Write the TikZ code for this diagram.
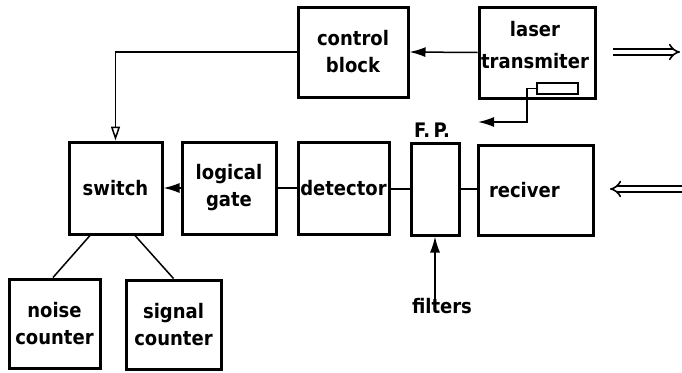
\documentclass[tikz,border=0pt]{standalone}
\usepackage{fontspec}
\setmainfont{DejaVu Sans Condensed}
\usetikzlibrary{arrows.meta,calc}
\begin{document}
\begin{tikzpicture}[x=1pt,y=-1pt,
  every node/.style={font=\bfseries\fontsize{20}{27}\selectfont},
  blk/.style={draw,line width=3pt,inner sep=0pt,align=center},
  conn/.style={line width=1.5pt},
  tip/.style={-{Latex[length=16pt,width=10pt]}},
  otip/.style={-{Triangle[open,length=14pt,width=9pt,line width=1.5pt]}},
  beam/.style={line width=1.6pt,double distance=4pt,-{Implies}}]
\useasboundingbox (0,0) rectangle (682,372);
\node[blk,minimum width=110pt,minimum height=90pt] (control) at (353,52) {control\\block};
\node[blk,minimum width=116pt,minimum height=91pt] (laser) at (537,52.5) {};
\node (lasertext) at (535,45) [align=center,font=\bfseries\fontsize{20}{32}\selectfont] {laser\\transmiter};
\node[draw,line width=2.2pt,minimum width=41pt,minimum height=11pt,inner sep=0pt] (small) at (557.5,88.5) {};
\node[blk,minimum width=93pt,minimum height=92pt] (switch) at (115.5,188) {switch};
\node[blk,minimum width=94pt,minimum height=92pt] (logic) at (229,188) {logical\\gate};
\node[blk,minimum width=91pt,minimum height=92pt] (detector) at (343.5,188) {detector};
\node[blk,minimum width=48pt,minimum height=92pt] (fp) at (435,189) {};
\node[blk,minimum width=115pt,minimum height=90pt,text width=105pt,align=left] (reciver) at (535.5,190) {\hspace*{6pt}reciver};
\node[blk,minimum width=91pt,minimum height=89pt] (noise) at (54.5,323.5) {noise\\counter};
\node[blk,minimum width=95pt,minimum height=89pt] (signal) at (173.5,324.5) {signal\\counter};
\node (fplabel) at (432,130) {F.\,P.};
\node (filters) at (442,306) {filters};
% connectors
\draw[conn,tip] (laser.west) -- (control.east);
\draw[conn,otip] (control.west) -| (switch.north);
\draw[conn,tip] (logic.west) -- (switch.east);
\draw[conn] (detector.west) -- (logic.east);
\draw[conn] (fp.west) -- (fp.west -| detector.east);
\draw[conn] (reciver.west |- fp.west) -- (fp.east);
\coordinate (bend) at (527,122);
\coordinate (fpend) at (478,122);
\draw[conn,tip] (small.west) -| (bend) -- (fpend);
\draw[conn,tip] ([yshift=-10pt]filters.north -| fp.south) -- (fp.south);
\draw[conn] ([xshift=-25.5pt]switch.south) -- ([xshift=-1.5pt]noise.north);
\draw[conn] ([xshift=19.5pt]switch.south) -- (signal.north);
\coordinate (t1) at (613,52);
\coordinate (t2) at (680,52);
\coordinate (r1) at (682,189);
\coordinate (r2) at (610,189);
\draw[beam] (t1) -- (t2);
\draw[beam] (r1) -- (r2);
\end{tikzpicture}
\end{document}
